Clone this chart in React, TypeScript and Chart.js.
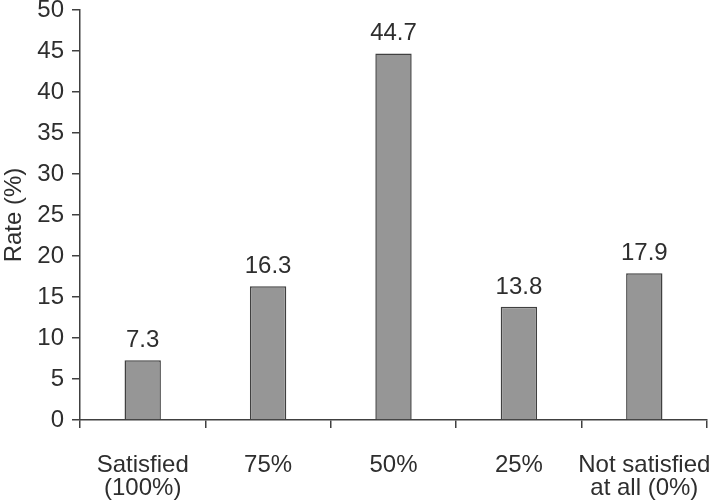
import React, { useEffect, useRef } from "react";
import { Chart, registerables } from "chart.js";

Chart.register(...registerables);

const categories: (string | string[])[] = [
  ["Satisfied", "(100%)"],
  "75%",
  "50%",
  "25%",
  ["Not satisfied", "at all (0%)"],
];
const rates = [7.3, 16.3, 44.7, 13.8, 17.9];
const yTitle = "Rate (%)";

const FONT = "'Liberation Sans', Arial, Helvetica, sans-serif";
const TEXT = "#2e2e2e";
const AXIS = "#404040";
const SIZE = 24;

const valueLabels = {
  id: "valueLabels",
  afterDatasetsDraw(chart: any) {
    const ctx = chart.ctx;
    const meta = chart.getDatasetMeta(0);
    ctx.save();
    ctx.font = `${SIZE}px ${FONT}`;
    ctx.fillStyle = TEXT;
    ctx.textAlign = "center";
    ctx.textBaseline = "alphabetic";
    meta.data.forEach((el: any, i: number) => {
      const v = chart.data.datasets[0].data[i] as number;
      ctx.fillText(v.toFixed(1), el.x, el.y - 13);
    });
    ctx.restore();
  },
};

export default function App() {
  const ref = useRef<HTMLCanvasElement>(null);
  useEffect(() => {
    document.body.style.margin = "0";
    const chart = new Chart(ref.current!, {
      type: "bar",
      data: {
        labels: categories,
        datasets: [
          {
            data: rates,
            backgroundColor: "#969696",
            borderColor: AXIS,
            borderWidth: 1.5,
            barPercentage: 0.29,
            categoryPercentage: 1,
          },
        ],
      },
      plugins: [valueLabels],
      options: {
        animation: false,
        responsive: false,
        layout: { padding: { top: 10, right: 2, left: 0, bottom: 0 } },
        plugins: { legend: { display: false }, tooltip: { enabled: false } },
        scales: {
          x: {
            offset: true,
            grid: {
              display: true,
              drawOnChartArea: false,
              drawTicks: true,
              tickLength: 8,
              color: AXIS,
              lineWidth: 1.5,
              offset: true,
            },
            border: { display: true, color: AXIS, width: 1.5 },
            ticks: {
              autoSkip: false,
              maxRotation: 0,
              minRotation: 0,
              padding: 26,
              color: TEXT,
              font: { family: FONT, size: SIZE, lineHeight: 0.96 },
            },
            afterFit(scale: any) {
              scale.height = 82;
              scale.paddingLeft = 0;
              scale.paddingRight = 0;
            },
          },
          y: {
            min: 0,
            max: 50,
            grid: {
              display: true,
              drawOnChartArea: false,
              drawTicks: true,
              tickLength: 8,
              color: AXIS,
              lineWidth: 1.5,
            },
            border: { display: true, color: AXIS, width: 1.5 },
            ticks: {
              stepSize: 5,
              padding: 8,
              color: TEXT,
              font: { family: FONT, size: SIZE },
            },
            title: {
              display: true,
              text: yTitle,
              color: TEXT,
              padding: 0,
              font: { family: FONT, size: SIZE },
            },
            afterFit(scale: any) {
              scale.width = 80;
              scale.paddingTop = 0;
              scale.paddingBottom = 0;
            },
          },
        },
      },
    } as any);
    return () => chart.destroy();
  }, []);
  return (
    <canvas ref={ref} width={709} height={502} style={{ display: "block" }} />
  );
}
